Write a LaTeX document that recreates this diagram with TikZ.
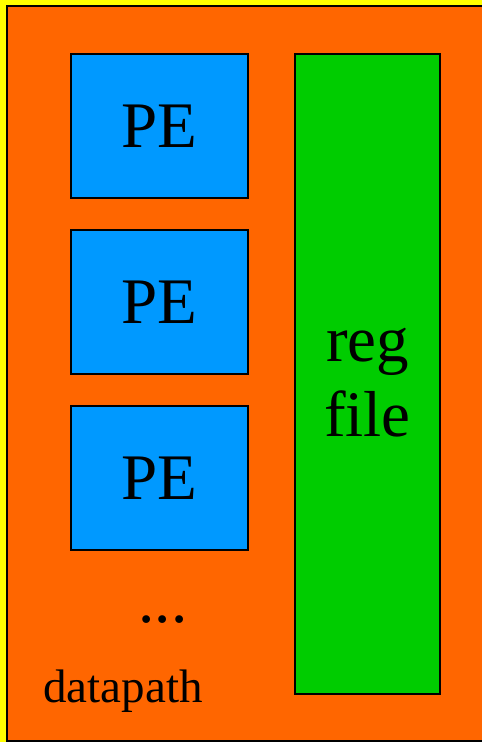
\documentclass[tikz,border=0pt]{standalone}
\usepackage{fontspec}
\setmainfont{Liberation Serif}
\usepackage{tikz}
\usetikzlibrary{positioning}
\usepackage{xcolor}

\definecolor{dpyellow}{HTML}{FFFF00}
\definecolor{dporange}{HTML}{FF6600}
\definecolor{peblue}{HTML}{0099FF}
\definecolor{rfgreen}{HTML}{00CC00}

\tikzset{
  pebox/.style={draw=black,line width=1.5pt,fill=peblue,minimum width=177pt,
    minimum height=144pt,inner sep=0pt,font=\fontsize{65}{75}\selectfont},
  regbox/.style={draw=black,line width=1.5pt,fill=rfgreen,minimum width=145pt,
    minimum height=640pt,inner sep=0pt},
  bigtext/.style={font=\fontsize{65}{75}\selectfont,inner sep=0pt},
}

\begin{document}
\begin{tikzpicture}[x=1pt,y=-1pt]
\useasboundingbox (0,0) rectangle (482,742);
\fill[dpyellow] (0,0) rectangle (482,742);
\draw[line width=1.5pt,fill=dporange] (7,6) rectangle (486,741);
% three processing elements
\node[pebox] (pe1) at (159.5,126) {PE};
\node[pebox] (pe2) at (159.5,302) {PE};
\node[pebox] (pe3) at (159.5,478) {PE};
\node[bigtext,anchor=base] (dots) at (163,622) {...};
% register file
\node[regbox] (regfile) at (367.5,374) {};
\node[bigtext,align=center] (reglabel) at (367.5,382.5) {reg\\file};
\node[font=\fontsize{47}{56}\selectfont,inner sep=0pt,anchor=base] (datapath) at (123,702) {datapath};
\end{tikzpicture}
\end{document}
